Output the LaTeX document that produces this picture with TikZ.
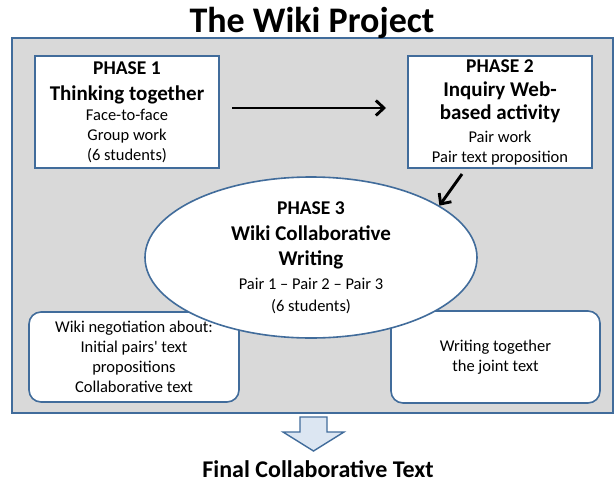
\documentclass[tikz,border=0pt]{standalone}
\usepackage{fontspec}
\setmainfont{Carlito}
\usepackage{tikz}
\usetikzlibrary{shapes.geometric,arrows.meta}

\definecolor{frameblue}{RGB}{65,108,155}
\definecolor{panelgray}{RGB}{217,217,217}
\definecolor{arrowfill}{RGB}{220,230,242}

\newcommand{\phasefont}{\fontsize{19.5}{20}\bfseries\selectfont}
\newcommand{\headfont}{\fontsize{21}{22}\bfseries\selectfont}
\newcommand{\bodyfont}{\fontsize{16.5}{20}\selectfont}

\begin{document}
\begin{tikzpicture}[x=1pt, y=-1pt,
	every node/.style={font=\bodyfont, align=center, inner sep=0pt},
	phasebox/.style={draw=frameblue, line width=2pt, fill=white},
	taskbox/.style={draw=frameblue, line width=1.6pt, fill=white, rounded corners=12pt},
	flow/.style={-{Straight Barb[length=8pt,width=15pt]}, line width=2.9pt}]
	\useasboundingbox (0,0) rectangle (615,482);
	\draw[draw=frameblue, fill=panelgray, line width=2pt] (12,38) rectangle (613,413);
	\node[font=\fontsize{36}{38}\bfseries\selectfont, anchor=base] (title) at (312,32) {The Wiki Project};
	\node[phasebox, minimum width=184, minimum height=112] (p1) at (127,112)
		{{\phasefont PHASE 1}\\[6pt]{\headfont Thinking together}\\Face-to-face\\Group work\\(6 students)};
	\node[phasebox, minimum width=184, minimum height=112] (p2) at (500,112)
		{{\phasefont PHASE 2}\\[4pt]{\headfont Inquiry Web-}\\[3pt]{\headfont based activity}\\[3pt]Pair work\\Pair text proposition};
	\node[taskbox, minimum width=210, minimum height=90] (nego) at (134,357)
		{Wiki negotiation about:\\Initial pairs\textquotesingle{} text\\propositions\\Collaborative text};
	\node[taskbox, minimum width=209, minimum height=92] (joint) at (495.5,357)
		{Writing together\\the joint text};
	\node[ellipse, draw=frameblue, line width=1.6pt, fill=white, minimum width=332, minimum height=161,
		font=\fontsize{16.5}{21}\selectfont] (p3) at (311,257.5)
		{{\phasefont PHASE 3}\\[5pt]{\headfont Wiki Collaborative}\\[4pt]{\headfont Writing}\\[3pt]Pair 1 -- Pair 2 -- Pair 3\\[1pt](6 students)};
	\draw[flow] ([xshift=12pt,yshift=4pt]p1.east) -- ([xshift=-21pt,yshift=4pt]p2.west);
	\draw[flow] ([xshift=-38pt,yshift=-5pt]p2.south) -- (p3.22);
	\draw[draw=frameblue, fill=arrowfill, line width=1.4pt, line join=miter]
		(300,417) -- (327,417) -- (327,432) -- (344,432) -- (313.5,451) -- (283,432) -- (300,432) -- cycle;
	\node[font=\fontsize{24}{26}\bfseries\selectfont, anchor=base] (final) at (318,477) {Final Collaborative Text};
\end{tikzpicture}
\end{document}
